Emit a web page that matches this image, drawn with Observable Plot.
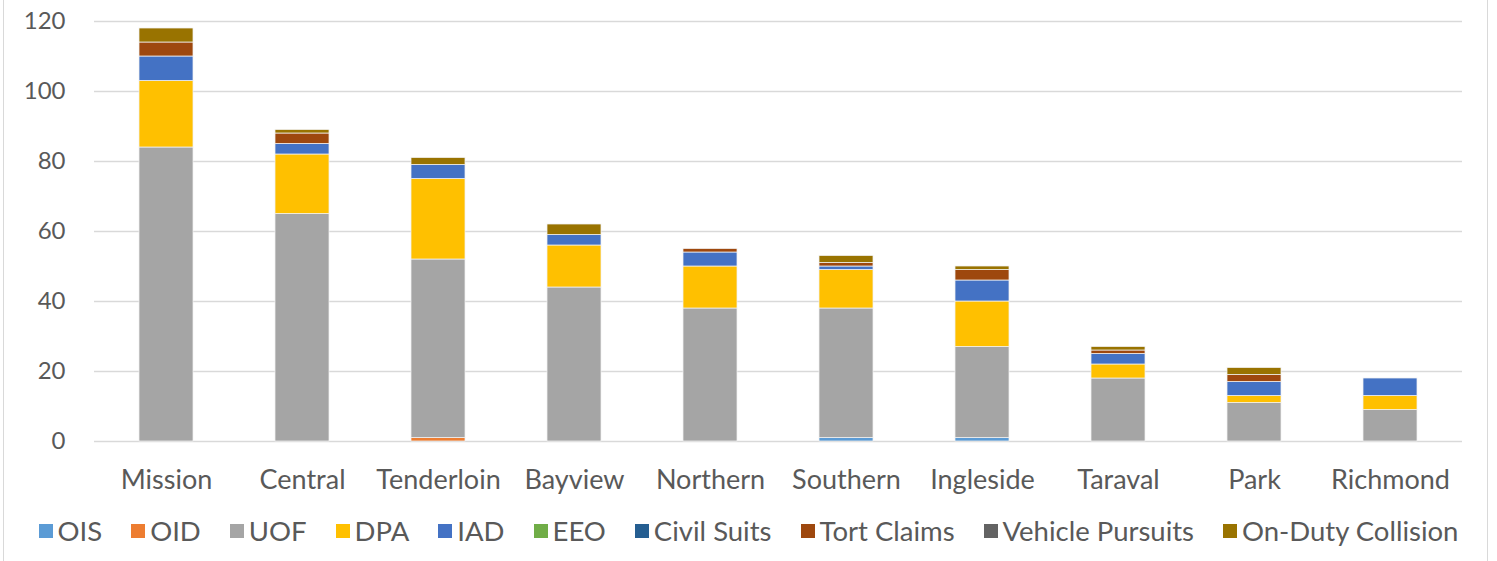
<!DOCTYPE html>
<html>
<head>
<meta charset="utf-8">
<script src="https://cdn.jsdelivr.net/npm/d3@7"></script>
<script src="https://cdn.jsdelivr.net/npm/@observablehq/plot@0.6"></script>
<style>
  html, body { margin: 0; padding: 0; background: #fff; }
  #chart { width: 1497px; position: relative; }
  #frame { position: absolute; left: 3px; top: 0; width: 1485px; height: 561px;
    border-left: 1.5px solid #d9d9d9; border-right: 1.5px solid #d9d9d9; pointer-events: none; box-sizing: border-box; }
  .legend { display: flex; justify-content: center; align-items: center; height: 61px;
    font-family: Lato, "Open Sans", sans-serif; font-size: 27.5px; color: #595959; }
  .legend .item { display: flex; align-items: center; margin: 0 14.5px; }
  .legend .sw { width: 14px; height: 14px; margin-right: 5px; display: inline-block; }
</style>
</head>
<body>
<div id="chart"><div id="frame"></div></div>
<script>
const categories = ["Mission", "Central", "Tenderloin", "Bayview", "Northern", "Southern", "Ingleside", "Taraval", "Park", "Richmond"];
const seriesNames = ["OIS", "OID", "UOF", "DPA", "IAD", "EEO", "Civil Suits", "Tort Claims", "Vehicle Pursuits", "On-Duty Collision"];
const seriesColors = ["#5B9BD5", "#ED7D31", "#A5A5A5", "#FFC000", "#4472C4", "#70AD47", "#255E91", "#9E480E", "#636363", "#997300"];

const OIS       = [0, 0, 0, 0, 0, 1, 1, 0, 0, 0];
const OID       = [0, 0, 1, 0, 0, 0, 0, 0, 0, 0];
const UOF       = [84, 65, 51, 44, 38, 37, 26, 18, 11, 9];
const DPA       = [19, 17, 23, 12, 12, 11, 13, 4, 2, 4];
const IAD       = [7, 3, 4, 3, 4, 1, 6, 3, 4, 5];
const EEO       = [0, 0, 0, 0, 0, 0, 0, 0, 0, 0];
const CivilSuits = [0, 0, 0, 0, 0, 0, 0, 0, 0, 0];
const TortClaims = [4, 3, 0, 0, 1, 1, 3, 1, 2, 0];
const VehiclePursuits = [0, 0, 0, 0, 0, 0, 0, 0, 0, 0];
const OnDutyCollision = [4, 1, 2, 3, 0, 2, 1, 1, 2, 0];

const yTicks = [0, 20, 40, 60, 80, 100, 120];

const seriesValues = [OIS, OID, UOF, DPA, IAD, EEO, CivilSuits, TortClaims, VehiclePursuits, OnDutyCollision];
const data = seriesNames.flatMap((s, si) =>
  categories.map((c, ci) => ({ district: c, series: s, value: seriesValues[si][ci] }))
).filter(d => d.value > 0);

const chart = Plot.plot({
  width: 1497,
  height: 500,
  marginLeft: 94,
  marginRight: 35,
  marginTop: 21,
  marginBottom: 59,
  style: { fontFamily: "Lato, 'Open Sans', sans-serif", color: "#595959", background: "transparent" },
  x: { domain: categories, label: null, paddingInner: 0.605, paddingOuter: 0.3025 },
  y: { domain: [0, 120], ticks: yTicks, label: null, grid: false },
  color: { domain: seriesNames, range: seriesColors },
  marks: [
    Plot.ruleY(yTicks, { stroke: "#d9d9d9", strokeWidth: 1.5 }),
    Plot.barY(data, Plot.stackY({ order: seriesNames }, {
      x: "district", y: "value", z: "series", fill: "series",
      stroke: "#f2f2f2", strokeWidth: 0.75
    })),
    Plot.axisY({ ticks: yTicks, tickSize: 0, tickPadding: 29, fontSize: 24, label: null }),
    Plot.axisX({ tickSize: 0, tickPadding: 28, fontSize: 27, label: null })
  ]
});
document.getElementById("chart").appendChild(chart);

const legend = document.createElement("div");
legend.className = "legend";
seriesNames.forEach((s, i) => {
  const item = document.createElement("div");
  item.className = "item";
  const sw = document.createElement("span");
  sw.className = "sw";
  sw.style.background = seriesColors[i];
  item.appendChild(sw);
  item.appendChild(document.createTextNode(s));
  legend.appendChild(item);
});
document.getElementById("chart").appendChild(legend);
</script>
</body>
</html>
